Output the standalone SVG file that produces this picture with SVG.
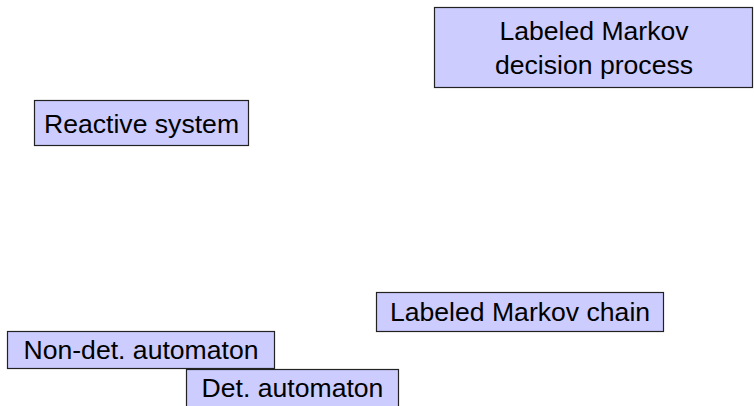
<svg xmlns="http://www.w3.org/2000/svg" width="754" height="406" viewBox="0 0 754 406">
  <style>
    .box { fill: #ccccff; stroke: #222222; stroke-width: 1.2; }
    .lbl { font-family: "Liberation Sans", "DejaVu Sans", sans-serif; font-size: 26.6px; fill: #000000; text-anchor: middle; }
  </style>
  <rect width="754" height="406" fill="#ffffff"/>
  <g id="connectors"></g>
  <g id="lmdp">
    <rect class="box" x="434.5" y="7.5" width="318" height="80"/>
    <text class="lbl" x="594" y="39.5">Labeled Markov</text>
    <text class="lbl" x="594" y="73.5">decision process</text>
  </g>
  <g id="reactive">
    <rect class="box" x="34.5" y="100.5" width="214" height="45"/>
    <text class="lbl" x="141.5" y="132.5">Reactive system</text>
  </g>
  <g id="lmc">
    <rect class="box" x="376.5" y="292.5" width="287" height="39"/>
    <text class="lbl" x="520" y="321">Labeled Markov chain</text>
  </g>
  <g id="nondet">
    <rect class="box" x="7.5" y="331.5" width="267" height="37"/>
    <text class="lbl" x="141" y="359">Non-det. automaton</text>
  </g>
  <g id="det">
    <rect class="box" x="186.5" y="369.5" width="212" height="40"/>
    <text class="lbl" x="292.5" y="397">Det. automaton</text>
  </g>
</svg>
